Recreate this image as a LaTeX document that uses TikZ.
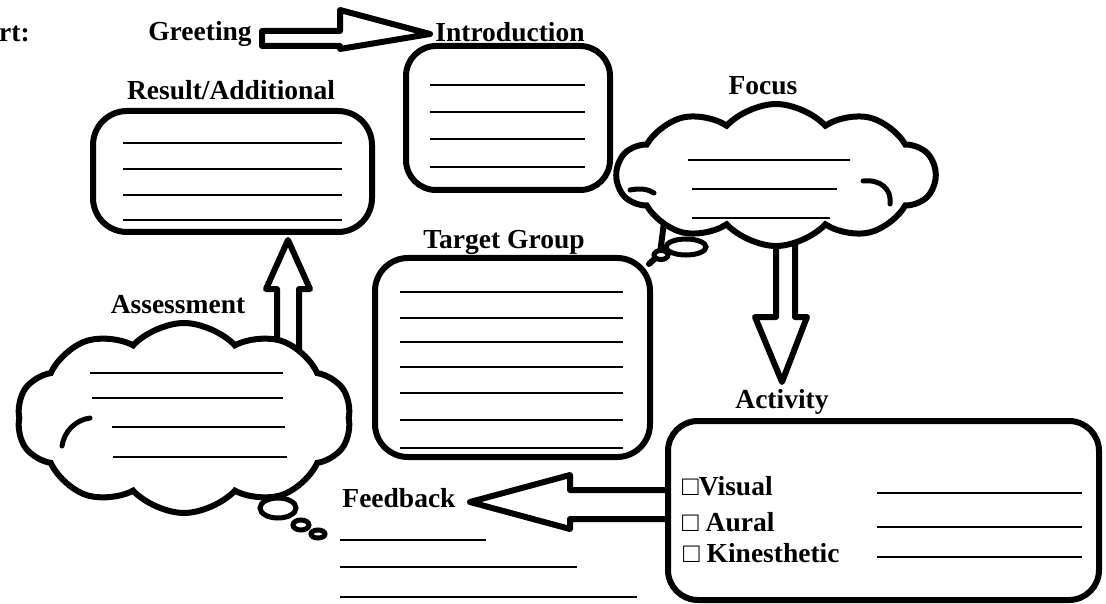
\documentclass[tikz,border=0pt]{standalone}
\usepackage{fontspec}
\setmainfont{Liberation Serif}
\usetikzlibrary{shapes.symbols,shapes.geometric,calc}
\begin{document}
\begin{tikzpicture}[x=1pt,y=-1pt,
  lbl/.style={font=\fontsize{27.5}{30}\selectfont\bfseries, inner sep=0pt, anchor=base},
  boxx/.style={draw, line width=6pt, rounded corners=30pt, inner sep=0pt},
  rule/.style={line width=1.8pt},
  thought/.style={draw, fill=white, cloud, cloud ignores aspect, line width=6pt, inner sep=0pt},
  curl/.style={line width=5pt, line cap=round},
  blockarrow/.style={draw, line width=6pt, line join=round},
  bubble/.style={draw, fill=white, ellipse, line width=5pt, inner sep=0pt}
]
\useasboundingbox (0,0) rectangle (1106,604);

% labels
\node[lbl, anchor=base west] (start) at (-1,42) {rt:};
\node[lbl] (greet) at (200,41) {Greeting};
\node[lbl] (introl) at (510,42) {Introduction};
\node[lbl] (resl) at (231,100) {Result/Additional};
\node[lbl] (focl) at (763,95) {Focus};
\node[lbl] (tgl) at (504,248) {Target Group};
\node[lbl] (assl) at (178,313) {Assessment};
\node[lbl] (actl) at (782,408) {Activity};
\node[lbl] (fbl) at (399,507) {Feedback};

% boxes
\node[boxx, minimum width=204pt, minimum height=144pt] (intro) at (508,118) {};
\node[boxx, minimum width=279pt, minimum height=121pt, rounded corners=34pt] (result) at (232.5,171.5) {};
\node[boxx, minimum width=275pt, minimum height=199pt, rounded corners=33pt] (target) at (512.5,357.5) {};
\node[boxx, minimum width=431pt, minimum height=179pt] (activity) at (883.5,510.5) {};

% block arrows (drawn before the clouds so that the clouds cover the shaft ends)
\coordinate (gTip) at (430,34);
\draw[blockarrow] (262,31) -- (340,31) -- (340,10) -- (gTip) -- (340,49) -- (340,46) -- (262,46) -- cycle;

\coordinate (uTip) at (288,240);
\draw[blockarrow] (277,370) -- (277,289) -- (266,289) -- (uTip) -- (310,289) -- (299,289) -- (299,370);

\coordinate (dTip) at (782,382);
\draw[blockarrow] (776,215) -- (776,317) -- (755,317) -- (dTip) -- (807,317) -- (795,317) -- (795,215);

\coordinate (fTip) at (470,502);
\draw[blockarrow] (activity.west |- 0,490) -- (570,490) -- (570,475) -- (fTip) -- (570,529) -- (570,519) -- (activity.west |- 0,519);

% thought bubbles near Focus
\coordinate (fj) at (649,264);
\draw[line width=6pt, line cap=round] (664,222) -- (660,254) -- (fj);
\node[bubble, minimum width=14pt, minimum height=9pt] (fb2) at (661,255) {};
\node[bubble, minimum width=40pt, minimum height=16pt] (fb1) at (686,247) {};

% clouds
\node[thought, cloud puffs=10, cloud puff arc=95, minimum width=318pt, minimum height=142pt] (focus) at (776,175) {};
\node[thought, cloud puffs=10, cloud puff arc=95, minimum width=334pt, minimum height=190pt] (assess) at (184,418) {};

% cloud curls
\draw[curl] (630,190) .. controls (640,188) and (648,189) .. (654,193);
\draw[curl] (863,181) .. controls (880,179) and (892,189) .. (890,204);
\draw[curl] (90,418) .. controls (75,420) and (64,432) .. (62,446);

% assessment thought bubbles
\node[bubble, minimum width=36pt, minimum height=20pt] (ab1) at (278,508) {};
\node[bubble, minimum width=16pt, minimum height=10pt] (ab2) at (301,525) {};
\node[bubble, minimum width=14pt, minimum height=8pt] (ab3) at (318,534) {};

% writing lines
\foreach \y in {85,112,139,167} \draw[rule] (430,\y) -- (585,\y);
\foreach \y in {143,169,195,220} \draw[rule] (123,\y) -- (342,\y);
\foreach \y in {292,318,342,367,393,420,448} \draw[rule] (400,\y) -- (623,\y);
\draw[rule] (688,160) -- (850,160);
\draw[rule] (692,189) -- (837,189);
\draw[rule] (692,218) -- (830,218);
\draw[rule] (90,373) -- (283,373);
\draw[rule] (92,398) -- (283,398);
\draw[rule] (112,427) -- (285,427);
\draw[rule] (113,457) -- (287,457);
\foreach \y in {493,527,557} \draw[rule] (877,\y) -- (1082,\y);
\draw[rule] (340,540) -- (486,540);
\draw[rule] (340,567) -- (577,567);
\draw[rule] (340,597) -- (637,597);

% checkbox labels
\node[lbl, anchor=base west] (vis) at (682,495) {□Visual};
\node[lbl, anchor=base west] (aur) at (682,531) {□ Aural};
\node[lbl, anchor=base west] (kin) at (683,562) {□ Kinesthetic};
\end{tikzpicture}
\end{document}
